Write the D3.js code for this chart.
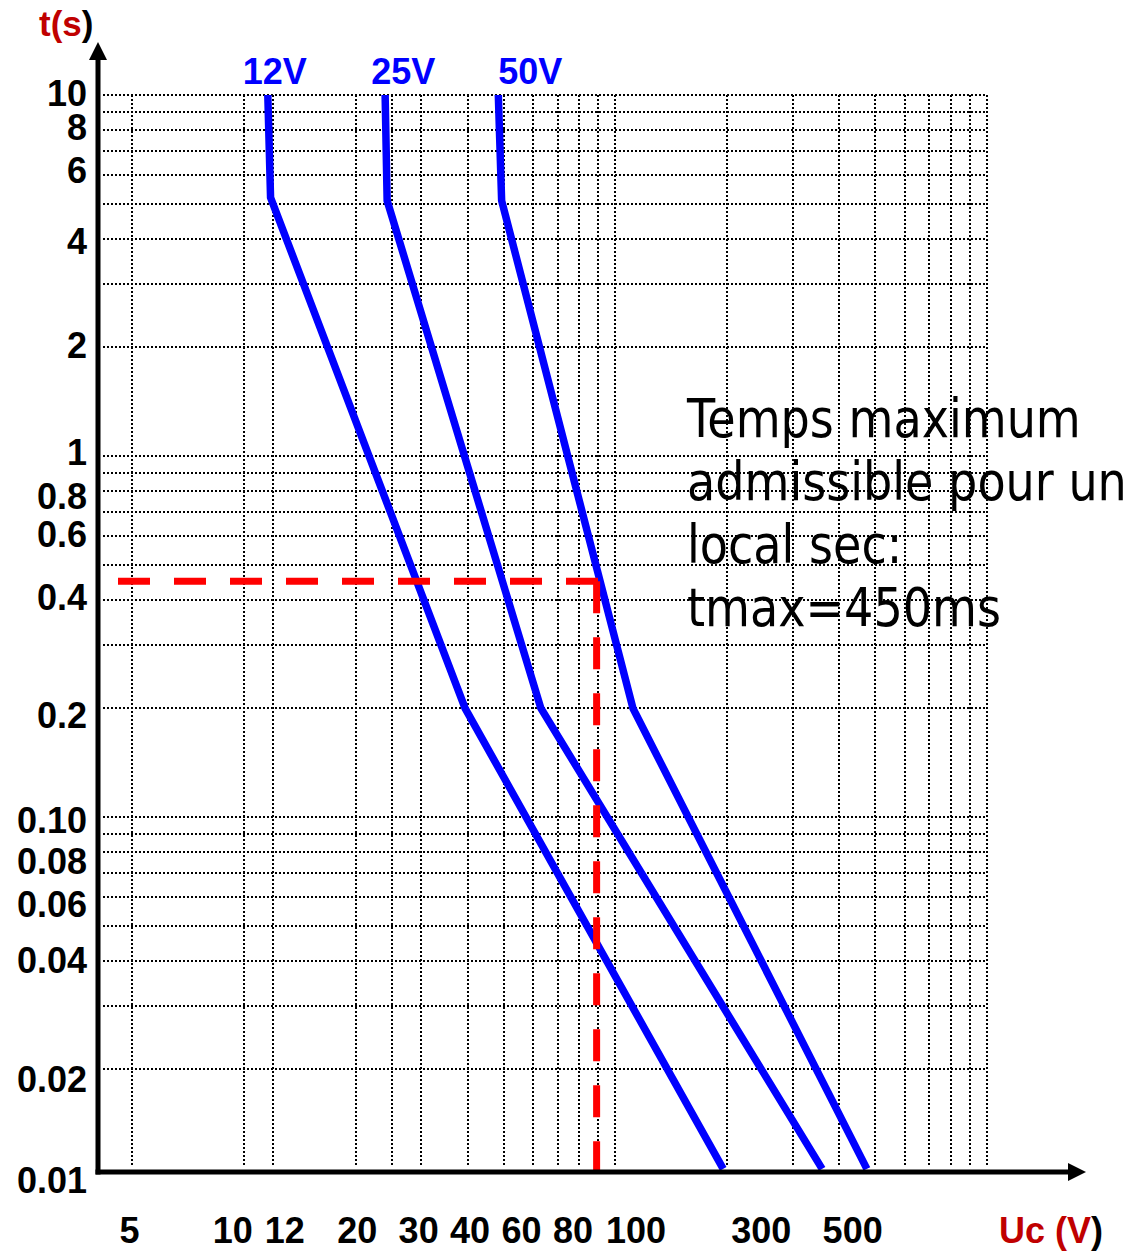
<!DOCTYPE html>
<html>
<head>
<meta charset="utf-8">
<script src="https://cdn.jsdelivr.net/npm/d3@7"></script>
<style>
  html, body { margin: 0; padding: 0; background: #fff; }
  svg { display: block; }
</style>
</head>
<body>
<svg id="chart" width="1140" height="1251"></svg>
<script>
// ---- Time axis (seconds, log scale) ----
const tTicks = [10, 8, 6, 4, 2, 1, 0.8, 0.6, 0.4, 0.2, 0.1, 0.08, 0.06, 0.04, 0.02, 0.01];
const tTickLabels = ["10", "8", "6", "4", "2", "1", "0.8", "0.6", "0.4", "0.2", "0.10", "0.08", "0.06", "0.04", "0.02", "0.01"];
const tGrid = [10, 9, 8, 7, 6, 5, 4, 3, 2, 1, 0.9, 0.8, 0.7, 0.6, 0.5, 0.4, 0.3, 0.2,
               0.1, 0.09, 0.08, 0.07, 0.06, 0.05, 0.04, 0.03, 0.02];

// ---- Contact voltage axis (V, log scale) ----
const uTicks = [5, 10, 12, 20, 30, 40, 60, 80, 100, 300, 500];
const uTickLabels = ["5", "10", "12", "20", "30", "40", "60", "80", "100", "300", "500"];
const uGrid = [5, 10, 12, 20, 25, 30, 40, 50, 60, 70, 80, 90, 100,
               200, 300, 400, 500, 600, 700, 800, 900, 1000];

// ---- Safety curves: [Uc (V), t (s)] ----
const seriesNames = ["12V", "25V", "50V"];
const curve12 = [[11.6, 10], [11.8, 5.2], [39.4, 0.2], [195, 0.0106]];
const curve25 = [[24.0, 10], [24.3, 5.1], [63, 0.2], [360, 0.0106]];
const curve50 = [[48.4, 10], [49.4, 5.1], [111.5, 0.2], [475, 0.0106]];

// ---- Dry-location limit ----
const tMax = 0.45;   // s
const uLimit = 89;   // V, where the 50V curve meets tMax

// ---- Layout ----
const plot = { left: 103, right: 987, top: 95, gridBottom: 1166 };
const axisX0 = 98, axisY0 = 1172;
const blue = "#0000ff", red = "#ff0000", darkRed = "#c00000";
const labelFont = "'Liberation Sans', Arial, Helvetica, sans-serif";

// label nudges to keep crowded tick labels readable
const tLabelNudge = [-2.5, -3, -6, 1.5, -3, -4, 4.5, -2.5, -3.5, 6, 3, 8.5, 6.5, -1, 9, 1.5];
const uLabelNudge = [-3, -11.5, 11, 1, -3, 2, -12, -7, 20, -32, -23];
const seriesLabelDx = [-25, -14, 0];

const svg = d3.select("#chart");

const x = d3.scaleLog().domain([5, 1000]).range([132, 987]);
const y = d3.scaleLog().domain([0.01, 10]).range([1178, 95]);

// ---- Dotted grid ----
const grid = svg.append("g").attr("class", "grid")
  .attr("stroke", "#000").attr("stroke-width", 2).attr("stroke-dasharray", "2,2")
  .attr("shape-rendering", "crispEdges");

grid.selectAll("line.h").data(tGrid).join("line")
  .attr("class", "h")
  .attr("x1", plot.left).attr("x2", plot.right)
  .attr("y1", d => Math.round(y(d))).attr("y2", d => Math.round(y(d)));

grid.selectAll("line.v").data(uGrid).join("line")
  .attr("class", "v")
  .attr("x1", d => Math.round(x(d))).attr("x2", d => Math.round(x(d)))
  .attr("y1", plot.top).attr("y2", plot.gridBottom);

// ---- Explanatory note ----
const noteLines = ["Temps maximum", "admissible pour un", "local sec:", "tmax=450ms"];
const note = svg.append("g")
  .attr("transform", "translate(687,0) scale(0.87,1)");
note.selectAll("text").data(noteLines).join("text")
  .attr("x", 0)
  .attr("y", (d, i) => 437 + i * 63)
  .attr("font-family", "'DejaVu Sans', Verdana, sans-serif")
  .attr("font-size", 53)
  .attr("fill", "#000")
  .text(d => d);

// ---- Curves ----
const line = d3.line().x(d => x(d[0])).y(d => y(d[1]));
const curves = [curve12, curve25, curve50];

svg.append("g").selectAll("path").data(curves).join("path")
  .attr("d", line)
  .attr("fill", "none")
  .attr("stroke", blue)
  .attr("stroke-width", 7.5)
  .attr("stroke-linejoin", "miter")
  .attr("stroke-linecap", "butt");

svg.append("g").selectAll("text").data(seriesNames).join("text")
  .attr("x", (d, i) => x(curves[i][0][0]) + seriesLabelDx[i])
  .attr("y", 84)
  .attr("font-family", labelFont)
  .attr("font-weight", "bold")
  .attr("font-size", 36)
  .attr("fill", blue)
  .text(d => d);

// ---- tmax guide (red dashed) ----
const guide = svg.append("g")
  .attr("fill", "none").attr("stroke", red).attr("stroke-width", 7)
  .attr("stroke-dasharray", "32,24");
guide.append("line")
  .attr("x1", 118).attr("x2", x(uLimit) + 2)
  .attr("y1", y(tMax)).attr("y2", y(tMax));
guide.append("line")
  .attr("x1", x(uLimit)).attr("x2", x(uLimit))
  .attr("y1", y(tMax)).attr("y2", axisY0);

// ---- Axes with arrows ----
svg.append("line")
  .attr("x1", axisX0).attr("x2", axisX0)
  .attr("y1", 58).attr("y2", axisY0 + 2.5)
  .attr("stroke", "#000").attr("stroke-width", 5);
svg.append("path")
  .attr("d", `M${axisX0},42 L${axisX0 - 9},60 L${axisX0 + 9},60 Z`)
  .attr("fill", "#000");

svg.append("line")
  .attr("x1", axisX0 - 2.5).attr("x2", 1070)
  .attr("y1", axisY0).attr("y2", axisY0)
  .attr("stroke", "#000").attr("stroke-width", 5);
svg.append("path")
  .attr("d", `M1086,${axisY0} L1068,${axisY0 - 9} L1068,${axisY0 + 9} Z`)
  .attr("fill", "#000");

// ---- Tick labels through d3 axes ----
const yAxis = d3.axisLeft(y)
  .tickValues(tTicks)
  .tickFormat((d, i) => tTickLabels[i])
  .tickSize(0).tickPadding(0);
const gy = svg.append("g").attr("transform", "translate(87,0)").call(yAxis);
gy.select(".domain").remove();
gy.selectAll("text")
  .attr("font-family", labelFont).attr("font-weight", "bold")
  .attr("font-size", 36).attr("fill", "#000")
  .attr("dy", "0.36em")
  .attr("y", (d, i) => tLabelNudge[i]);

const xAxis = d3.axisBottom(x)
  .tickValues(uTicks)
  .tickFormat((d, i) => uTickLabels[i])
  .tickSize(0).tickPadding(0);
const gx = svg.append("g").attr("transform", "translate(0,1217)").call(xAxis);
gx.select(".domain").remove();
gx.selectAll("text")
  .attr("font-family", labelFont).attr("font-weight", "bold")
  .attr("font-size", 36).attr("fill", "#000")
  .attr("x", (d, i) => uLabelNudge[i]);

// ---- Axis titles ----
const tTitle = svg.append("text")
  .attr("x", 39).attr("y", 36)
  .attr("font-family", labelFont).attr("font-weight", "bold").attr("font-size", 35);
tTitle.append("tspan").attr("fill", darkRed).text("t(s");
tTitle.append("tspan").attr("fill", "#000").text(")");

const uTitle = svg.append("text")
  .attr("x", 999).attr("y", 1243)
  .attr("font-family", labelFont).attr("font-weight", "bold").attr("font-size", 36);
uTitle.append("tspan").attr("fill", darkRed).text("Uc (V");
uTitle.append("tspan").attr("fill", "#000").text(")");
</script>
</body>
</html>
